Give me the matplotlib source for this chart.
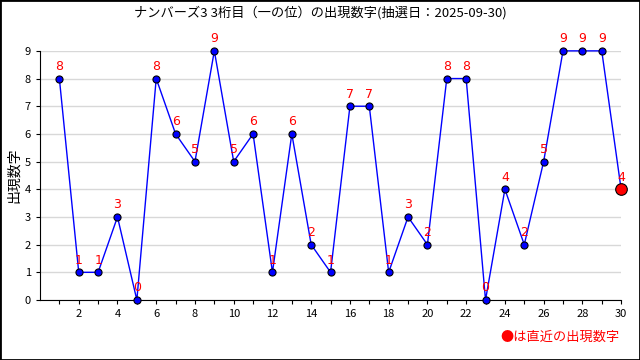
import matplotlib.pyplot as plt
from matplotlib.patches import Rectangle

plt.rcParams['font.family'] = ['Noto Sans CJK JP', 'DejaVu Sans']

# draw numbers 1..30 (一の位)
draws = list(range(1, 31))
digits = [8, 1, 1, 3, 0, 8, 6, 5, 9, 5, 6, 1, 6, 2, 1,
          7, 7, 1, 3, 2, 8, 8, 0, 4, 2, 5, 9, 9, 9, 4]
x_labels = [str(i) if i % 2 == 0 else "" for i in draws]
y_ticks = list(range(0, 10))

TITLE = "ナンバーズ3 3桁目（一の位）の出現数字(抽選日：2025-09-30)"

fig = plt.figure(figsize=(6.4, 3.6), dpi=100)
ax = fig.add_axes([0.0625, 0.1667, 0.908, 0.692])

ax.plot(draws, digits, color="blue", lw=1, zorder=3, clip_on=False)
ax.scatter(draws[:-1], digits[:-1], s=26, color="blue", edgecolor="black", lw=0.8,
           zorder=4, clip_on=False)
ax.scatter(draws[-1:], digits[-1:], s=70, color="red", edgecolor="black", lw=0.8,
           zorder=5, clip_on=False)

for x, y in zip(draws, digits):
    ax.text(x, y + 0.2, str(y), color="red", fontsize=9, ha="center", va="bottom",
            family="DejaVu Sans", zorder=6)

ax.set_xlim(0, 30)
ax.set_ylim(0, 9)
ax.set_xticks(draws)
ax.set_xticklabels(x_labels, fontsize=8)
ax.set_yticks(y_ticks)
ax.set_yticklabels([str(v) for v in y_ticks], fontsize=8)
ax.tick_params(length=3, width=0.8)
ax.grid(axis="y", color="#d8d8d8", lw=1)
ax.set_axisbelow(True)
for s in ["top", "right"]:
    ax.spines[s].set_visible(False)
ax.set_ylabel("出現数字", fontsize=10)
ax.yaxis.set_label_coords(-0.033, 0.5)

fig.text(0.5, 0.965, TITLE, ha="center", va="center", fontsize=9.5)
fig.text(0.968, 0.063, "●は直近の出現数字", ha="right", va="center", fontsize=9.5, color="red")

fig.patches.append(Rectangle((0, 0), 1, 1, transform=fig.transFigure, fill=False,
                             edgecolor="black", lw=2))

fig.savefig("out.png")
